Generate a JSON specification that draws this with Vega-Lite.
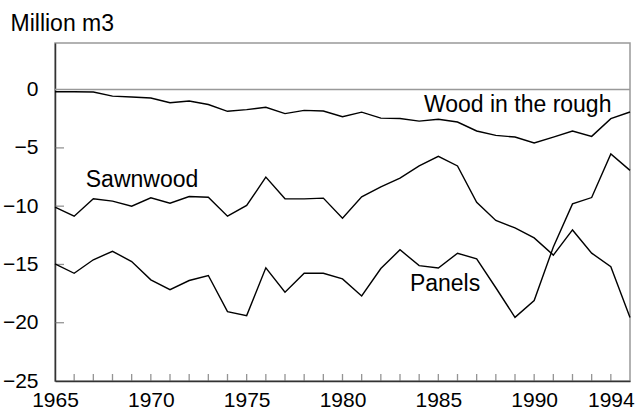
{
  "$schema": "https://vega.github.io/schema/vega-lite/v6.json",
  "autosize": {"type": "none"},
  "width": 575,
  "height": 338,
  "padding": {"left": 55, "top": 43, "right": 7, "bottom": 29},
  "background": "white",
  "config": {
    "view": {"stroke": "#999999", "strokeWidth": 1.5},
    "font": "Liberation Sans",
    "axis": {"grid": false, "labelFont": "Liberation Sans", "titleFont": "Liberation Sans"}
  },
  "datasets": {
    "series": [
      {"year": 1965, "series": "Wood in the rough", "value": -0.18},
      {"year": 1966, "series": "Wood in the rough", "value": -0.18},
      {"year": 1967, "series": "Wood in the rough", "value": -0.2},
      {"year": 1968, "series": "Wood in the rough", "value": -0.56},
      {"year": 1969, "series": "Wood in the rough", "value": -0.63},
      {"year": 1970, "series": "Wood in the rough", "value": -0.72},
      {"year": 1971, "series": "Wood in the rough", "value": -1.13},
      {"year": 1972, "series": "Wood in the rough", "value": -0.98},
      {"year": 1973, "series": "Wood in the rough", "value": -1.28},
      {"year": 1974, "series": "Wood in the rough", "value": -1.86},
      {"year": 1975, "series": "Wood in the rough", "value": -1.72},
      {"year": 1976, "series": "Wood in the rough", "value": -1.52},
      {"year": 1977, "series": "Wood in the rough", "value": -2.06},
      {"year": 1978, "series": "Wood in the rough", "value": -1.78},
      {"year": 1979, "series": "Wood in the rough", "value": -1.84},
      {"year": 1980, "series": "Wood in the rough", "value": -2.33},
      {"year": 1981, "series": "Wood in the rough", "value": -1.93},
      {"year": 1982, "series": "Wood in the rough", "value": -2.45},
      {"year": 1983, "series": "Wood in the rough", "value": -2.48},
      {"year": 1984, "series": "Wood in the rough", "value": -2.7},
      {"year": 1985, "series": "Wood in the rough", "value": -2.54},
      {"year": 1986, "series": "Wood in the rough", "value": -2.78},
      {"year": 1987, "series": "Wood in the rough", "value": -3.55},
      {"year": 1988, "series": "Wood in the rough", "value": -3.93},
      {"year": 1989, "series": "Wood in the rough", "value": -4.07},
      {"year": 1990, "series": "Wood in the rough", "value": -4.58},
      {"year": 1991, "series": "Wood in the rough", "value": -4.07},
      {"year": 1992, "series": "Wood in the rough", "value": -3.55},
      {"year": 1993, "series": "Wood in the rough", "value": -4.01},
      {"year": 1994, "series": "Wood in the rough", "value": -2.49},
      {"year": 1995, "series": "Wood in the rough", "value": -1.92},
      {"year": 1965, "series": "Sawnwood", "value": -10.09},
      {"year": 1966, "series": "Sawnwood", "value": -10.86},
      {"year": 1967, "series": "Sawnwood", "value": -9.37},
      {"year": 1968, "series": "Sawnwood", "value": -9.57},
      {"year": 1969, "series": "Sawnwood", "value": -10.0},
      {"year": 1970, "series": "Sawnwood", "value": -9.28},
      {"year": 1971, "series": "Sawnwood", "value": -9.74},
      {"year": 1972, "series": "Sawnwood", "value": -9.17},
      {"year": 1973, "series": "Sawnwood", "value": -9.23},
      {"year": 1974, "series": "Sawnwood", "value": -10.86},
      {"year": 1975, "series": "Sawnwood", "value": -9.94},
      {"year": 1976, "series": "Sawnwood", "value": -7.51},
      {"year": 1977, "series": "Sawnwood", "value": -9.37},
      {"year": 1978, "series": "Sawnwood", "value": -9.37},
      {"year": 1979, "series": "Sawnwood", "value": -9.31},
      {"year": 1980, "series": "Sawnwood", "value": -11.03},
      {"year": 1981, "series": "Sawnwood", "value": -9.2},
      {"year": 1982, "series": "Sawnwood", "value": -8.34},
      {"year": 1983, "series": "Sawnwood", "value": -7.6},
      {"year": 1984, "series": "Sawnwood", "value": -6.55},
      {"year": 1985, "series": "Sawnwood", "value": -5.73},
      {"year": 1986, "series": "Sawnwood", "value": -6.55},
      {"year": 1987, "series": "Sawnwood", "value": -9.66},
      {"year": 1988, "series": "Sawnwood", "value": -11.23},
      {"year": 1989, "series": "Sawnwood", "value": -11.87},
      {"year": 1990, "series": "Sawnwood", "value": -12.72},
      {"year": 1991, "series": "Sawnwood", "value": -14.2},
      {"year": 1992, "series": "Sawnwood", "value": -12.04},
      {"year": 1993, "series": "Sawnwood", "value": -14.03},
      {"year": 1994, "series": "Sawnwood", "value": -15.2},
      {"year": 1995, "series": "Sawnwood", "value": -19.55},
      {"year": 1965, "series": "Panels", "value": -14.95},
      {"year": 1966, "series": "Panels", "value": -15.76},
      {"year": 1967, "series": "Panels", "value": -14.6},
      {"year": 1968, "series": "Panels", "value": -13.87},
      {"year": 1969, "series": "Panels", "value": -14.75},
      {"year": 1970, "series": "Panels", "value": -16.32},
      {"year": 1971, "series": "Panels", "value": -17.16},
      {"year": 1972, "series": "Panels", "value": -16.38},
      {"year": 1973, "series": "Panels", "value": -15.95},
      {"year": 1974, "series": "Panels", "value": -19.05},
      {"year": 1975, "series": "Panels", "value": -19.39},
      {"year": 1976, "series": "Panels", "value": -15.29},
      {"year": 1977, "series": "Panels", "value": -17.38},
      {"year": 1978, "series": "Panels", "value": -15.76},
      {"year": 1979, "series": "Panels", "value": -15.76},
      {"year": 1980, "series": "Panels", "value": -16.24},
      {"year": 1981, "series": "Panels", "value": -17.7},
      {"year": 1982, "series": "Panels", "value": -15.35},
      {"year": 1983, "series": "Panels", "value": -13.74},
      {"year": 1984, "series": "Panels", "value": -15.1},
      {"year": 1985, "series": "Panels", "value": -15.31},
      {"year": 1986, "series": "Panels", "value": -14.04},
      {"year": 1987, "series": "Panels", "value": -14.52},
      {"year": 1988, "series": "Panels", "value": -17.0},
      {"year": 1989, "series": "Panels", "value": -19.54},
      {"year": 1990, "series": "Panels", "value": -18.1},
      {"year": 1991, "series": "Panels", "value": -13.5},
      {"year": 1992, "series": "Panels", "value": -9.8},
      {"year": 1993, "series": "Panels", "value": -9.26},
      {"year": 1994, "series": "Panels", "value": -5.52},
      {"year": 1995, "series": "Panels", "value": -6.93}
    ],
    "labels": [
      {"year": 1989.14, "value": -1.92, "text": "Wood in the rough"},
      {"year": 1969.54, "value": -8.37, "text": "Sawnwood"},
      {"year": 1985.35, "value": -17.24, "text": "Panels"}
    ],
    "xticks": [
      {"year": 1966}, {"year": 1967}, {"year": 1968}, {"year": 1969}, {"year": 1970},
      {"year": 1971}, {"year": 1972}, {"year": 1973}, {"year": 1974}, {"year": 1975},
      {"year": 1976}, {"year": 1977}, {"year": 1978}, {"year": 1979}, {"year": 1980},
      {"year": 1981}, {"year": 1982}, {"year": 1983}, {"year": 1984}, {"year": 1985},
      {"year": 1986}, {"year": 1987}, {"year": 1988}, {"year": 1989}, {"year": 1990},
      {"year": 1991}, {"year": 1992}, {"year": 1993}, {"year": 1994}
    ],
    "yticks": [{"value": -20}, {"value": -15}, {"value": -10}, {"value": -5}],
    "zero": [{"value": 0}]
  },
  "layer": [
    {
      "data": {"name": "zero"},
      "mark": {"type": "rule", "color": "#999999", "strokeWidth": 1.5},
      "encoding": {
        "y": {"field": "value", "type": "quantitative", "scale": {"domain": [-25, 4], "nice": false, "zero": false}}
      }
    },
    {
      "data": {"name": "xticks"},
      "mark": {"type": "tick", "orient": "vertical", "color": "#666666", "thickness": 1.3, "size": 14, "clip": true},
      "encoding": {
        "x": {"field": "year", "type": "quantitative"},
        "y": {"datum": -25, "type": "quantitative"}
      }
    },
    {
      "data": {"name": "yticks"},
      "mark": {"type": "tick", "orient": "horizontal", "color": "#666666", "thickness": 1.3, "size": 18, "clip": true},
      "encoding": {
        "x": {"datum": 1965, "type": "quantitative"},
        "y": {"field": "value", "type": "quantitative"}
      }
    },
    {
      "data": {"name": "series"},
      "mark": {"type": "line", "color": "black", "strokeWidth": 1.4},
      "encoding": {
        "x": {
          "field": "year", "type": "quantitative",
          "scale": {"domain": [1965, 1995], "nice": false, "zero": false},
          "axis": {
            "orient": "bottom",
            "title": null,
            "values": [1965, 1970, 1975, 1980, 1985, 1990, 1994],
            "format": "d",
            "labelFontSize": 21,
            "labelColor": "black",
            "labelFlush": false,
            "labelOverlap": false,
            "labelPadding": 8,
            "ticks": false,
            "tickSize": 0,
            "domainColor": "#333333",
            "domainWidth": 1.5
          }
        },
        "y": {
          "field": "value", "type": "quantitative",
          "scale": {"domain": [-25, 4], "nice": false, "zero": false},
          "axis": {
            "orient": "left",
            "title": "Million m3",
            "titleAngle": 0,
            "titleX": -45,
            "titleY": -13,
            "titleAlign": "left",
            "titleBaseline": "alphabetic",
            "titleFontSize": 23,
            "titleFontWeight": "normal",
            "titleColor": "black",
            "values": [-25, -20, -15, -10, -5, 0],
            "labelFontSize": 21,
            "labelColor": "black",
            "labelPadding": 17,
            "labelFlush": false,
            "ticks": false,
            "tickSize": 0,
            "domainColor": "#333333",
            "domainWidth": 1.5
          }
        },
        "detail": {"field": "series"}
      }
    },
    {
      "data": {"name": "labels"},
      "mark": {"type": "text", "fontSize": 23, "align": "center", "baseline": "alphabetic", "color": "black", "font": "Liberation Sans"},
      "encoding": {
        "x": {"field": "year", "type": "quantitative"},
        "y": {"field": "value", "type": "quantitative"},
        "text": {"field": "text"}
      }
    }
  ]
}
